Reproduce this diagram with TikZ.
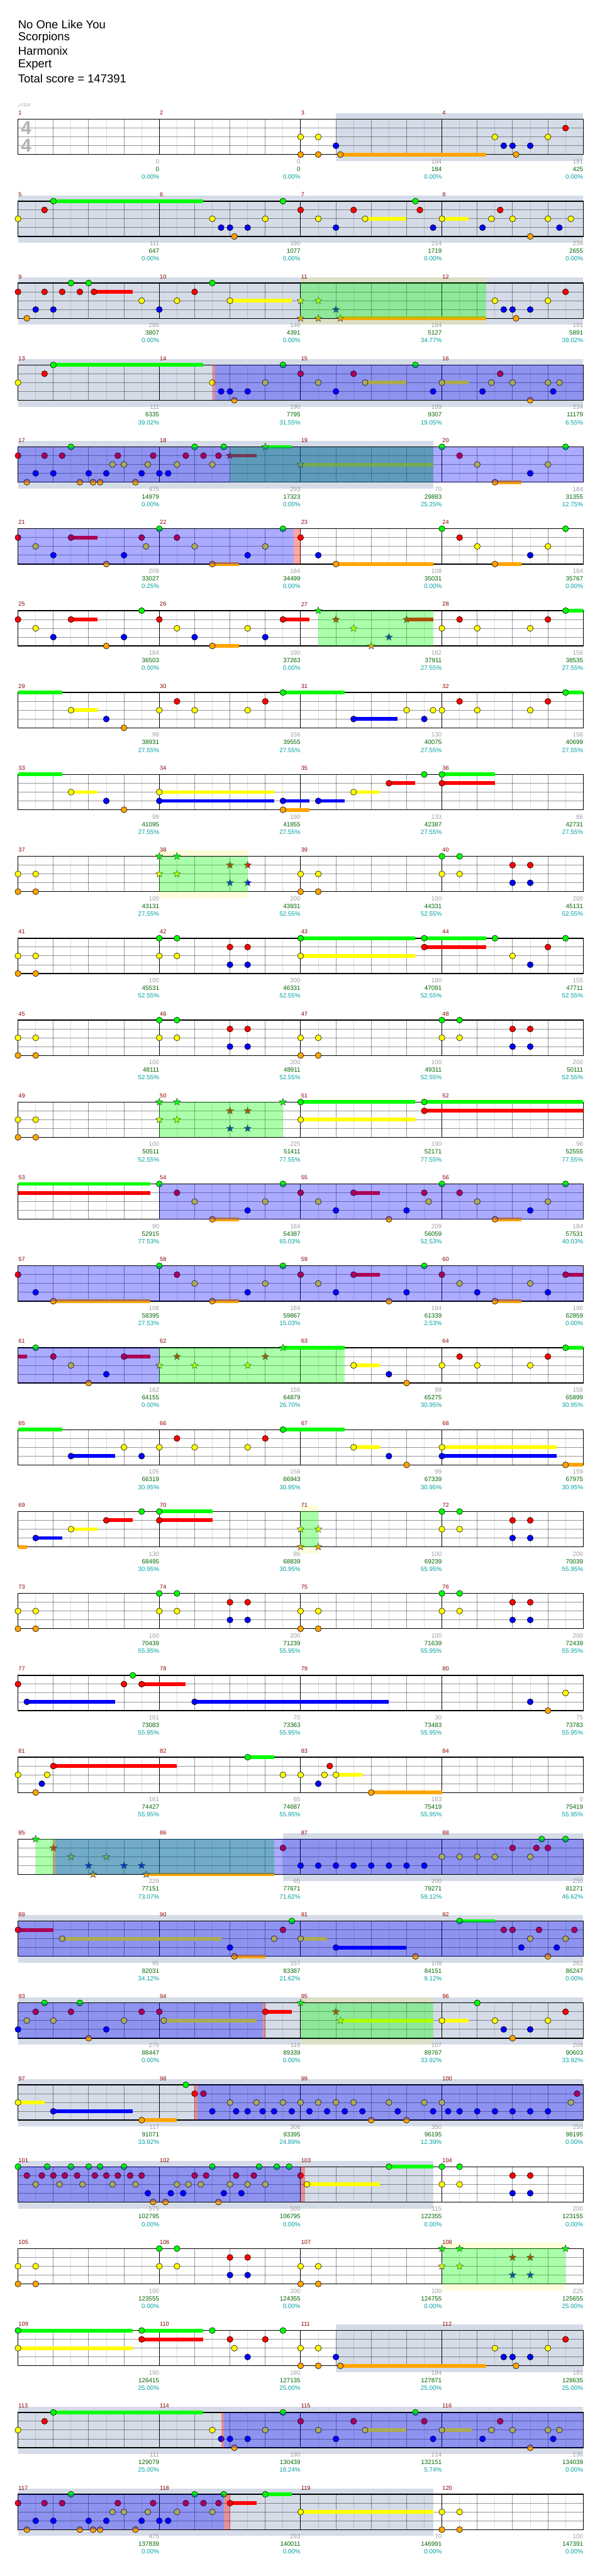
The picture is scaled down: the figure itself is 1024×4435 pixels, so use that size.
\documentclass[tikz,border=0pt]{standalone}
\usepackage{fontspec}
\setmainfont{Liberation Sans}
\newfontfamily\symfont{DejaVu Sans}
\usepackage{xcolor}
\usepackage{tikz}
\definecolor{fret0}{HTML}{00FF00}
\definecolor{fret1}{HTML}{FF0000}
\definecolor{fret2}{HTML}{FFFF00}
\definecolor{fret3}{HTML}{0000FF}
\definecolor{fret4}{HTML}{FFA500}
\definecolor{bandFill}{HTML}{D5DCE8}
\definecolor{barNum}{HTML}{8B0000}
\definecolor{ptsGray}{HTML}{A0A0A0}
\definecolor{ptsGreen}{HTML}{006400}
\definecolor{ptsTeal}{HTML}{00A0A0}

\begin{document}
\begin{tikzpicture}[x=0.75pt,y=-0.75pt,
  onrow/.style={shift={(31,{205.3+141*#1})}},
  offbeat/.style={draw=black,draw opacity=0.13,line width=0.75pt},
  onbeat/.style={draw=black,draw opacity=0.4,line width=0.75pt},
  laneline/.style={draw=black,draw opacity=0.4,line width=0.75pt},
  barline/.style={draw=black,line width=0.75pt},
  staffedge/.style={draw=black,line width=1.1pt},
  nt/.style={draw=black,line width=0.45pt},
  spgreen/.style={fill=green,fill opacity=0.33},
  spblue/.style={fill=blue,fill opacity=0.33},
  spmark/.style={fill=red,fill opacity=0.35},
  tint/.style={fill=yellow,fill opacity=0.15},
  barno/.style={text=barNum,font=\fontsize{7.5}{8}\selectfont,anchor=west,inner sep=0.5pt},
  pts/.style={font=\fontsize{8}{9}\selectfont,anchor=east,inner sep=0pt},
  starnote/.pic={\path[pic actions] (-90:6.5)--(-54:2.8)--(-18:6.5)--(18:2.8)--(54:6.5)--(90:2.8)--(126:6.5)--(162:2.8)--(198:6.5)--(234:2.8)--cycle;}]
\fill[white] (0,0) rectangle (1024,4435);
\useasboundingbox (0,0) rectangle (1024,4435);

\node[anchor=west,inner sep=0,font=\fontsize{15}{18}\selectfont] (song) at (31,42) {No One Like You};
\node[anchor=west,inner sep=0,font=\fontsize{15}{18}\selectfont] (artist) at (31,65) {Scorpions};
\node[anchor=west,inner sep=0,font=\fontsize{15}{18}\selectfont] (charter) at (31,88) {Harmonix};
\node[anchor=west,inner sep=0,font=\fontsize{15}{18}\selectfont] (level) at (31,111.5) {Expert};
\node[anchor=west,inner sep=0,font=\fontsize{15}{18}\selectfont] (total) at (31,135) {Total score = 147391};
\node[anchor=west,inner sep=0,text=ptsGray,font=\fontsize{6}{7}\selectfont] (tempo) at (31,181) {{\symfont ♩}=116};

% bands
\foreach \r/\a/\b in {0/36/64,1/0/64,2/0/64,3/0/64,4/0/47,21/30/64,22/0/64,23/0/64,24/0/64,25/0/47,27/36/64,28/0/64,29/0/47}
  \fill[bandFill,onrow=\r] ({15.203*\a},-10) rectangle ({15.203*\b},71.8);
\foreach \r/\a/\b in {2/32/53,9/16/26,17/32/34,23/32/47,26/48/62} {
  \fill[tint,onrow=\r] ({15.203*\a},-10) rectangle ({15.203*\b},0);
  \fill[tint,onrow=\r] ({15.203*\a},60.8) rectangle ({15.203*\b},71.8);
}

% staves
\foreach \r in {0,...,29} {
  \begin{scope}[onrow=\r]
    \foreach \j in {1,3,...,31} \draw[offbeat] ({30.406*\j},0) -- ({30.406*\j},60.8);
    \foreach \j in {2,4,6,10,12,14,18,20,22,26,28,30} \draw[onbeat] ({30.406*\j},0) -- ({30.406*\j},60.8);
    \foreach \l in {1,2,3} \draw[laneline] (0,{15.2*\l}) -- (973,{15.2*\l});
    \foreach \j in {8,16,24} \draw[barline] ({30.406*\j},0) -- ({30.406*\j},60.8);
    \draw[staffedge] (0,0) rectangle (973,60.8);
    \foreach \k in {0,...,3} {
      \pgfmathtruncatemacro\mnum{4*\r+\k+1}
      \node[barno] (bar\mnum) at ({243.25*\k},-11) {\mnum};
    }
  \end{scope}
}
\node[text=black!30,font=\bfseries\fontsize{24}{24}\selectfont,inner sep=0] (tsTop) at (45,220.5) {4};
\node[text=black!30,font=\bfseries\fontsize{24}{24}\selectfont,inner sep=0] (tsBot) at (45,250.5) {4};

% sustains
\foreach \r/\a/\b/\l in {0/36.5/53/4,
  1/4/21/0,1/39.3/44/2,1/48/51/2,
  2/8.6/13/1,2/24/31/2,2/36.5/53/4,
  3/4/21/0,3/39.3/44/2,3/48/51/2,
  4/28/31/0,4/24/27/1,4/32/47/2,4/54/57/4,
  5/6/9/1,5/22/25/4,5/36/47/4,5/54/57/4,
  6/62/64/0,6/6/9/1,6/30/33/1,6/44/47/1,6/22/25/4,
  7/0/5/0,7/30/37/0,7/62/64/0,7/6/9/2,7/38/43/3,
  8/0/5/0,8/48/54/0,8/42/45/1,8/48/54/1,8/6/9/2,8/16/29/2,8/38/41/2,8/16/29/3,8/30/33/3,8/34/37/3,8/30/33/4,
  10/32/45/0,10/46/53/0,10/46/53/1,10/32/45/2,
  12/32/45/0,12/46/64/0,12/46/64/1,12/32/45/2,
  13/0/15/0,13/0/15/1,13/38/41/1,13/22/25/4,13/54/57/4,
  14/62/64/1,14/38/41/1,14/4/15/4,14/22/25/4,14/54/57/4,
  15/0/1/1,15/12/15/1,15/30/37/0,15/62/64/0,15/38/41/2,
  16/0/5/0,16/30/37/0,16/38/41/2,16/48/61/2,16/6/11/3,16/48/61/3,16/62/64/4,
  17/0/1/4,17/16/22/0,17/10/13/1,17/16/22/1,17/6/9/2,17/2/5/3,
  19/14/19/1,19/1/11/3,19/20/42/3,
  20/26/29/0,20/4/18/1,20/36/39/2,20/40/48/4,
  21/14.5/29/4,
  22/0/4/1,22/50/54/0,22/5/23/2,22/32/35/2,22/36/44/3,22/24.5/28/4,
  23/28/31/1,23/16.5/27/2,23/36.5/47/2,23/48/51/2,
  24/0/3/2,24/4/13/3,24/14/18/4,
  25/42/47/0,25/32.7/41/2,
  27/0/13/0,27/14/21/0,27/14/21/1,27/0/13/2,27/36.5/53/4,
  28/4/21/0,28/39.3/44/2,28/48/51.4/2,
  29/28/31/0,29/24/27/1,29/32/47/2}
  \fill[fret\l,onrow=\r] ({15.203*\a},{15.2*\l-3.2}) rectangle ({15.203*\b},{15.2*\l+3.2});

% notes
\foreach \r/\chord in {
  0/{32/2,34/2,54/2,60/2,32/4,34/4,36.5/4,56.4/4,36/3,55/3,56/3,58/3,62/1},
  1/{4/0,30/0,45/0,3/1,32/1,38/1,45.5/1,54.6/1,0/2,22/2,28/2,34/2,39.3/2,48/2,53.6/2,56/2,60/2,62.6/2,23/3,24/3,26/3,36/3,47/3,52.6/3,61.3/3,24.5/4,58/4},
  2/{6/0,8/0,22/0,0/1,3/1,5/1,7/1,8.6/1,20/1,62/1,14/2,18/2,24/2,54/2,60/2,2/3,4/3,16/3,55/3,56/3,58/3,1/4,56.4/4},
  3/{4/0,30/0,45/0,3/1,32/1,38/1,54.6/1,0/2,22/2,28/2,34/2,39.3/2,48/2,53.6/2,56/2,60/2,61.3/2,23/3,24/3,26/3,36/3,47/3,52.6/3,60.6/3,24.5/4,58/4},
  4/{6/0,20/0,23.3/0,48/0,62/0,0/1,3/1,5/1,11.3/1,15.3/1,19/1,21/1,22.7/1,50/1,10.7/2,12/2,14.7/2,18/2,22/2,52/2,60/2,2/3,4/3,8/3,10/3,14/3,16/3,17/3,58/3,1/4,7/4,8.5/4,9.3/4,13.3/4,54/4},
  5/{16/0,30/0,48/0,62/0,0/1,6/1,14/1,18/1,32/1,50/1,2/2,14.5/2,20/2,28/2,52/2,60/2,4/3,12/3,26/3,34/3,58/3,10/4,22/4,36/4,54/4},
  6/{14/0,62/0,0/1,6/1,16/1,30/1,50/1,60/1,2/2,18/2,26/2,48/2,52/2,58/2,4/3,12/3,20/3,28/3,10/4,22/4},
  7/{30/0,62/0,18/1,28/1,50/1,60/1,6/2,16/2,20/2,26/2,44/2,47/2,48/2,52/2,58/2,10/3,38/3,46/3,12/4},
  8/{46/0,48/0,42/1,48/1,6/2,16/2,38/2,10/3,16/3,30/3,34/3,12/4,30/4},
  9/{0/2,2/2,0/4,2/4,32/2,34/2,32/4,34/4,48/0,50/0,48/2,50/2,56/1,58/1,56/3,58/3},
  10/{16/0,18/0,32/0,46/0,54/0,62/0,24/1,26/1,46/1,60/1,0/2,2/2,16/2,18/2,32/2,56/2,24/3,26/3,58/3,0/4,2/4},
  11/{0/2,2/2,0/4,2/4,16/0,18/0,16/2,18/2,24/1,26/1,24/3,26/3,32/2,34/2,32/4,34/4,48/0,50/0,48/2,50/2,56/1,58/1,56/3,58/3},
  12/{0/2,2/2,0/4,2/4,32/0,46/0,46/1,32/2},
  13/{16/0,30/0,48/0,62/0,18/1,32/1,38/1,46/1,50/1,20/2,28/2,34/2,46.5/2,52/2,60/2,26/3,36/3,44/3,58/3,22/4,42/4,54/4},
  14/{16/0,30/0,46/0,0/1,18/1,32/1,38/1,48/1,62/1,20/2,28/2,34/2,50/2,58/2,2/3,26/3,36/3,44/3,52/3,60/3,4/4,22/4,42/4,54/4},
  15/{2/0,62/0,4/1,12/1,50/1,60/1,6/2,38/2,48/2,52/2,58/2,10/3,42/3,8/4,44/4},
  16/{30/0,18/1,28/1,12/2,16/2,20/2,26/2,38/2,48/2,6/3,14/3,42/3,48/3,44/4,62/4},
  17/{14/0,16/0,48/0,50/0,10/1,16/1,56/1,58/1,6/2,48/2,50/2,2/3,56/3,58/3},
  18/{0/2,2/2,0/4,2/4,16/0,18/0,16/2,18/2,24/1,26/1,24/3,26/3,32/2,34/2,32/4,34/4,48/0,50/0,48/2,50/2,56/1,58/1,56/3,58/3},
  19/{13/0,0/1,12/1,14/1,62/2,1/3,20/3,58/3,60/4},
  20/{26/0,4/1,35.3/1,0/2,3.3/2,30/2,32/2,34.7/2,36/2,2.7/3,34/3,2/4,40/4},
  21/{59.3/0,62/0,30/1,56/1,58.7/1,60/1,48/2,50/2,52/2,54/2,58/2,32/3,34/3,36/3,38/3,40/3,42/3,44/3,46/3},
  22/{31/0,50/0,0/1,30/1,55/1,56/1,59/1,63/1,5/2,29/2,32/2,58/2,62/2,24/3,36/3,57/3,61/3,24.5/4,45/4,60/4},
  23/{3/0,7/0,52/0,2/1,6/1,14/1,16/1,28/1,62/1,1/2,4/2,12/2,16.5/2,48/2,54/2,60/2,0/3,10/3,55/3,58/3,8/4,56/4},
  24/{19/0,20/1,21/1,63.3/1,0/2,24/2,27/2,30/2,32/2,34/2,36/2,38/2,42/2,46/2,48/2,62.6/2,4/3,22/3,24.7/3,26/3,27.7/3,29/3,31/3,33/3,35/3,37/3,39/3,43/3,47/3,48.7/3,50/3,52/3,54/3,56/3,58/3,60/3,14/4,40/4,44/4},
  25/{0/0,3.3/0,6/0,8/0,9.3/0,12/0,22/0,27.3/0,29.3/0,30.7/0,42/0,48/0,50/0,1/1,2.7/1,4/1,5.3/1,6.7/1,8.7/1,10/1,11.3/1,12.7/1,14/1,20/1,21.3/1,24.7/1,26.7/1,32/1,56/1,58/1,2/2,4.7/2,7.3/2,10.7/2,13.3/2,18/2,19.3/2,20.7/2,24/2,26/2,28/2,32.7/2,48/2,50/2,14.7/3,17.3/3,18.7/3,23.3/3,25.3/3,56/3,58/3,15.3/4,16.7/4,22.7/4},
  26/{0/2,2/2,0/4,2/4,16/0,18/0,16/2,18/2,24/1,26/1,24/3,26/3,32/2,34/2,32/4,34/4},
  27/{0/0,14/0,22/0,30/0,14/1,24/1,28/1,62/1,0/2,24.5/2,32/2,34/2,54/2,60/2,26/3,36/3,55/3,56/3,58/3,32/4,34/4,36.5/4,56.4/4},
  28/{4/0,30/0,45/0,3/1,32/1,38/1,46/1,54.6/1,0/2,22/2,28/2,34/2,39.3/2,48/2,53.6/2,56/2,60/2,61.3/2,23/3,24/3,26/3,36/3,47/3,52.6/3,60.6/3,24.5/4,58/4},
  29/{6/0,20/0,23.3/0,28/0,0/1,3/1,5/1,11.3/1,15.3/1,19/1,21/1,22.7/1,24/1,10.7/2,12/2,14.7/2,18/2,22/2,32/2,48/2,50/2,2/3,4/3,8/3,10/3,14/3,16/3,17/3,1/4,7/4,8.5/4,9.3/4,13.3/4,48/4,50/4}} {
  \begin{scope}[onrow=\r]
    \foreach \p/\l in \chord
      \filldraw[nt,fill=fret\l] ({15.203*\p},{15.2*\l}) circle[radius=5.2];
  \end{scope}
}

% star phrases
\foreach \r/\chord in {
  2/{32/2,34/2,36/3,32/4,34/4,36.5/4},
  4/{28/0,24/1,32/2},
  6/{34/0,36/1,44/1,38/2,42/3,40/4},
  9/{16/0,18/0,16/2,18/2,24/1,26/1,24/3,26/3},
  12/{16/0,18/0,30/0,16/2,18/2,24/1,26/1,24/3,26/3},
  15/{30/0,18/1,28/1,16/2,20/2,26/2},
  17/{32/2,34/2,32/4,34/4},
  21/{2/0,4/1,6/2,10/2,8/3,12/3,14/3,8.5/4,14.5/4},
  23/{32/0,36/1,36.5/2},
  26/{48/0,50/0,62/0,48/2,50/2,56/1,58/1,56/3,58/3}} {
  \begin{scope}[onrow=\r]
    \foreach \p/\l in \chord
      \pic[fill=fret\l,draw=black!70,line width=0.45pt] at ({15.203*\p},{15.2*\l}) {starnote};
  \end{scope}
}

% overdrive
\foreach \r/\a/\b in {2/32/53,4/24/47,6/34/47,9/16/26,12/16/30,15/16/37,17/32/34,21/2/29,23/32/47,26/48/62}
  \fill[spgreen,onrow=\r] ({15.203*\a},0) rectangle ({15.203*\b},60.8);
\foreach \r/\a/\b in {3/22/22.3,5/31.2/32,21/4/4.2,23/27.7/28,24/20/20.35,25/32/32.5,28/23/23.3,29/23.3/24}
  \fill[spmark,onrow=\r] ({15.203*\a},0) rectangle ({15.203*\b},60.8);
\foreach \r/\a/\b in {3/22.3/64,4/0/64,5/0/31.2,13/16/64,14/0/64,15/0/16,21/4.2/64,22/0/64,23/0/27.7,24/20.35/64,25/0/32,28/23.3/64,29/0/23.3}
  \fill[spblue,onrow=\r] ({15.203*\a},0) rectangle ({15.203*\b},60.8);

% scores
\foreach \r/\k/\a/\b/\c in {
  0/1/0/0/0.00,0/2/0/0/0.00,0/3/184/184/0.00,0/4/191/425/0.00,
  1/1/111/647/0.00,1/2/190/1077/0.00,1/3/214/1719/0.00,1/4/234/2655/0.00,
  2/1/288/3807/0.00,2/2/146/4391/0.00,2/3/184/5127/34.77,2/4/191/5891/39.02,
  3/1/111/6335/39.02,3/2/190/7795/31.55,3/3/189/9307/19.05,3/4/234/11179/6.55,
  4/1/475/14979/0.00,4/2/293/17323/0.00,4/3/70/29883/25.25,4/4/184/31355/12.75,
  5/1/209/33027/0.25,5/2/184/34499/0.00,5/3/108/35031/0.00,5/4/184/35767/0.00,
  6/1/184/36503/0.00,6/2/190/37263/0.00,6/3/162/37911/27.55,6/4/156/38535/27.55,
  7/1/99/38931/27.55,7/2/156/39555/27.55,7/3/130/40075/27.55,7/4/156/40699/27.55,
  8/1/99/41095/27.55,8/2/190/41855/27.55,8/3/133/42387/27.55,8/4/86/42731/27.55,
  9/1/100/43131/27.55,9/2/200/43931/52.55,9/3/100/44331/52.55,9/4/200/45131/52.55,
  10/1/100/45531/52.55,10/2/200/46331/52.55,10/3/190/47091/52.55,10/4/155/47711/52.55,
  11/1/100/48111/52.55,11/2/200/48911/52.55,11/3/100/49311/52.55,11/4/200/50111/52.55,
  12/1/100/50511/52.55,12/2/225/51411/77.55,12/3/190/52171/77.55,12/4/96/52555/77.55,
  13/1/90/52915/77.53,13/2/184/54387/65.03,13/3/209/56059/52.53,13/4/184/57531/40.03,
  14/1/108/58395/27.53,14/2/184/59867/15.03,14/3/184/61339/2.53,14/4/190/62859/0.00,
  15/1/162/64155/0.00,15/2/156/64879/26.70,15/3/99/65275/30.95,15/4/156/65899/30.95,
  16/1/105/66319/30.95,16/2/156/66943/30.95,16/3/99/67339/30.95,16/4/159/67975/30.95,
  17/1/130/68495/30.95,17/2/86/68839/30.95,17/3/100/69239/55.95,17/4/200/70039/55.95,
  18/1/100/70439/55.95,18/2/200/71239/55.95,18/3/100/71639/55.95,18/4/200/72439/55.95,
  19/1/161/73083/55.95,19/2/70/73363/55.95,19/3/30/73483/55.95,19/4/75/73783/55.95,
  20/1/161/74427/55.95,20/2/65/74687/55.95,20/3/183/75419/55.95,20/4/0/75419/55.95,
  21/1/229/77151/73.07,21/2/65/77671/71.62,21/3/200/79271/59.12,21/4/250/81271/46.62,
  22/1/95/82031/34.12,22/2/157/83387/21.62,22/3/108/84151/9.12,22/4/262/86247/0.00,
  23/1/275/88447/0.00,23/2/116/89339/0.00,23/3/107/89767/33.92,23/4/209/90603/33.92,
  24/1/117/91071/33.92,24/2/306/93395/24.89,24/3/350/96195/12.39,24/4/250/98195/0.00,
  25/1/575/102795/0.00,25/2/500/106795/0.00,25/3/115/122355/0.00,25/4/200/123155/0.00,
  26/1/100/123555/0.00,26/2/200/124355/0.00,26/3/100/124755/0.00,26/4/225/125655/25.00,
  27/1/190/126415/25.00,27/2/180/127135/25.00,27/3/184/127871/25.00,27/4/191/128635/25.00,
  28/1/111/129079/25.00,28/2/190/130439/18.24,28/3/214/132151/5.74,28/4/236/134039/0.00,
  29/1/475/137839/0.00,29/2/293/140011/0.00,29/3/70/146991/0.00,29/4/100/147391/0.00} {
  \begin{scope}[onrow=\r]
    \node[pts,text=ptsGray] (hit\r-\k) at ({243.25*\k},72.8) {\a};
    \node[pts,text=ptsGreen] (sum\r-\k) at ({243.25*\k},85.8) {\b};
    \node[pts,text=ptsTeal] (pct\r-\k) at ({243.25*\k},99) {\c\%};
  \end{scope}
}
\end{tikzpicture}
\end{document}
